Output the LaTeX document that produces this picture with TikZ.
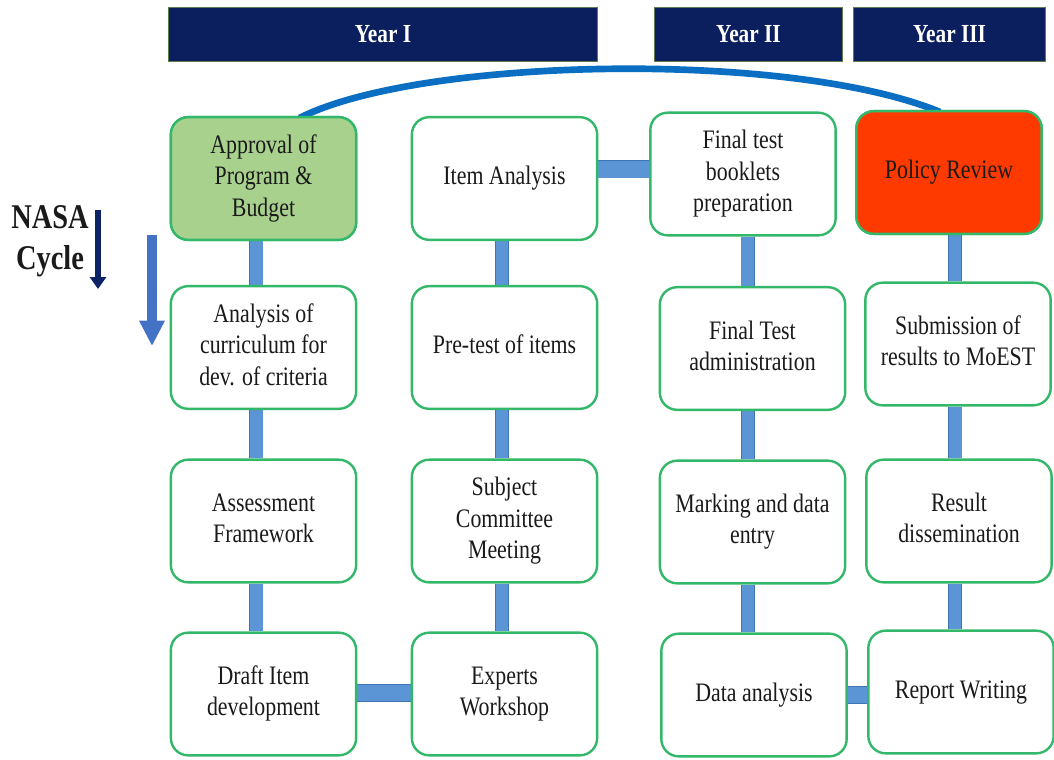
\documentclass[tikz,border=0pt]{standalone}
\usepackage{fontspec}
\setmainfont{Liberation Serif}[FakeStretch=0.82]
\usetikzlibrary{calc,backgrounds,arrows.meta}
\definecolor{navy}{HTML}{0B1F5E}
\definecolor{boxgreen}{HTML}{33B86A}
\definecolor{connfill}{HTML}{5B95D6}
\definecolor{connborder}{HTML}{3F74B5}
\definecolor{arcblue}{HTML}{0A6FC2}
\definecolor{apprfill}{HTML}{A9D18E}
\definecolor{polfill}{HTML}{FF3A00}
\definecolor{txt}{HTML}{1A1A1A}
\definecolor{arrdark}{HTML}{0D2366}
\definecolor{arrblue}{HTML}{4472C4}
\renewcommand{\arraystretch}{1}
\newcommand{\bt}[1]{\raisebox{-6pt}{\begin{tabular}{@{}c@{}}#1\end{tabular}}}
\begin{document}
\begin{tikzpicture}[x=0.75pt,y=-0.75pt,
  stepbox/.style={draw=boxgreen,line width=1.8pt,fill=white,rounded corners=13pt,
    minimum width=139pt,minimum height=92pt,text=txt,
    font=\fontsize{20}{23.5}\selectfont,inner sep=2pt},
  yearbox/.style={draw={rgb,255:red,95;green,125;blue,75},line width=0.7pt,fill=navy,
    minimum height=41pt,text=white,font=\bfseries\fontsize{19.5}{22}\selectfont},
  vconn/.style={draw=connborder,line width=0.6pt,double=connfill,double distance=9.5pt},
  hconn/.style={draw=connborder,line width=0.6pt,double=connfill,double distance=12.5pt},
]
\useasboundingbox (0,0) rectangle (1054,760);

% year headers
\node[yearbox,minimum width=322pt] (y1) at (383,34.5) {Year I};
\node[yearbox,minimum width=141pt] (y2) at (748.5,34.5) {Year II};
\node[yearbox,minimum width=144pt] (y3) at (949.5,34.5) {Year III};

% column 1
\node[stepbox,fill=apprfill] (appr) at (263.5,178.5) {\bt{Approval of\\Program \&\\Budget}};
\node[stepbox] (anal) at (263.5,347.5) {\bt{Analysis of\\curriculum for\\dev. of criteria}};
\node[stepbox] (asse) at (263.5,521) {\bt{Assessment\\Framework}};
\node[stepbox] (draft) at (263.5,694) {\bt{Draft Item\\development}};
% column 2
\node[stepbox] (item) at (504.5,178.5) {\bt{Item Analysis}};
\node[stepbox] (pret) at (504.5,347.5) {\bt{Pre-test of items}};
\node[stepbox] (subj) at (504.5,521) {\bt{Subject\\Committee\\Meeting}};
\node[stepbox] (expe) at (504.5,694) {\bt{Experts\\Workshop}};
% column 3
\node[stepbox] (book) at (743,174) {\bt{Final test\\booklets\\preparation}};
\node[stepbox] (admin) at (752.5,348.5) {\bt{Final Test\\administration}};
\node[stepbox] (mark) at (752.5,522) {\bt{Marking and data\\entry}};
\node[stepbox] (data) at (754,695) {\bt{Data analysis}};
% column 4
\node[stepbox,fill=polfill] (pol) at (949,172.5) {\bt{Policy Review}};
\node[stepbox] (sub) at (958,344) {\bt{Submission of\\results to MoEST}};
\node[stepbox] (res) at (959,521) {\bt{Result\\dissemination}};
\node[stepbox] (rep) at (961,692) {\bt{Report Writing}};

\begin{scope}[on background layer]
\fill[white] (0,0) rectangle (1054,760);
% vertical connectors
\draw[vconn] ([xshift=-5.5pt]appr.south) -- ([xshift=-5.5pt]appr.south |- anal.north);
\draw[vconn] ([xshift=-5.5pt]anal.south) -- ([xshift=-5.5pt]anal.south |- asse.north);
\draw[vconn] ([xshift=-5.5pt]asse.south) -- ([xshift=-5.5pt]asse.south |- draft.north);
\draw[vconn] ([xshift=-2pt]item.south) -- ([xshift=-2pt]item.south |- pret.north);
\draw[vconn] ([xshift=-2pt]pret.south) -- ([xshift=-2pt]pret.south |- subj.north);
\draw[vconn] ([xshift=-2pt]subj.south) -- ([xshift=-2pt]subj.south |- expe.north);
\draw[vconn] ([xshift=3.5pt]book.south) -- ([xshift=3.5pt]book.south |- admin.north);
\draw[vconn] ([xshift=-3.5pt]admin.south) -- ([xshift=-3.5pt]admin.south |- mark.north);
\draw[vconn] ([xshift=-3.5pt]mark.south) -- ([xshift=-3.5pt]mark.south |- data.north);
\draw[vconn] ([xshift=4.5pt]pol.south) -- ([xshift=4.5pt]pol.south |- sub.north);
\draw[vconn] ([xshift=-2pt]sub.south) -- ([xshift=-2pt]sub.south |- res.north);
\draw[vconn] ([xshift=-3pt]res.south) -- ([xshift=-3pt]res.south |- rep.north);
% horizontal connectors
\draw[hconn] ([yshift=7pt]item.east) -- ([yshift=7pt]item.east -| book.west);
\draw[hconn] ([yshift=0.75pt]draft.east) -- ([yshift=0.75pt]draft.east -| expe.west);
\draw[hconn] ([yshift=0pt]data.east) -- ([yshift=0pt]data.east -| rep.west);
\end{scope}

% arc from Approval to Policy Review
\coordinate (arcA) at ($(appr.north)+(36,2)$);
\coordinate (arcB) at ($(pol.north)+(-9,2)$);
\draw[arcblue,line width=5pt] (arcA) .. controls (420,57) and (790,50) .. (arcB);
\node[stepbox,fill=apprfill] at (appr) {\bt{Approval of\\Program \&\\Budget}};
\node[stepbox,fill=polfill] at (pol) {\bt{Policy Review}};

% NASA cycle label and arrows
\node[align=center,text=txt,font=\bfseries\fontsize{26}{31}\selectfont] (nasa) at (50,241) {NASA\\Cycle};
\coordinate (d1) at (98,210);
\coordinate (d2) at (98,289);
\draw[arrdark,line width=3.8pt,-{Triangle[width=12pt,length=9pt]}] (d1) -- (d2);
\coordinate (b1) at (152,235);
\coordinate (b2) at (152,346);
\draw[arrblue,line width=7.5pt,-{Triangle[width=18pt,length=19pt]}] (b1) -- (b2);
\end{tikzpicture}
\end{document}
